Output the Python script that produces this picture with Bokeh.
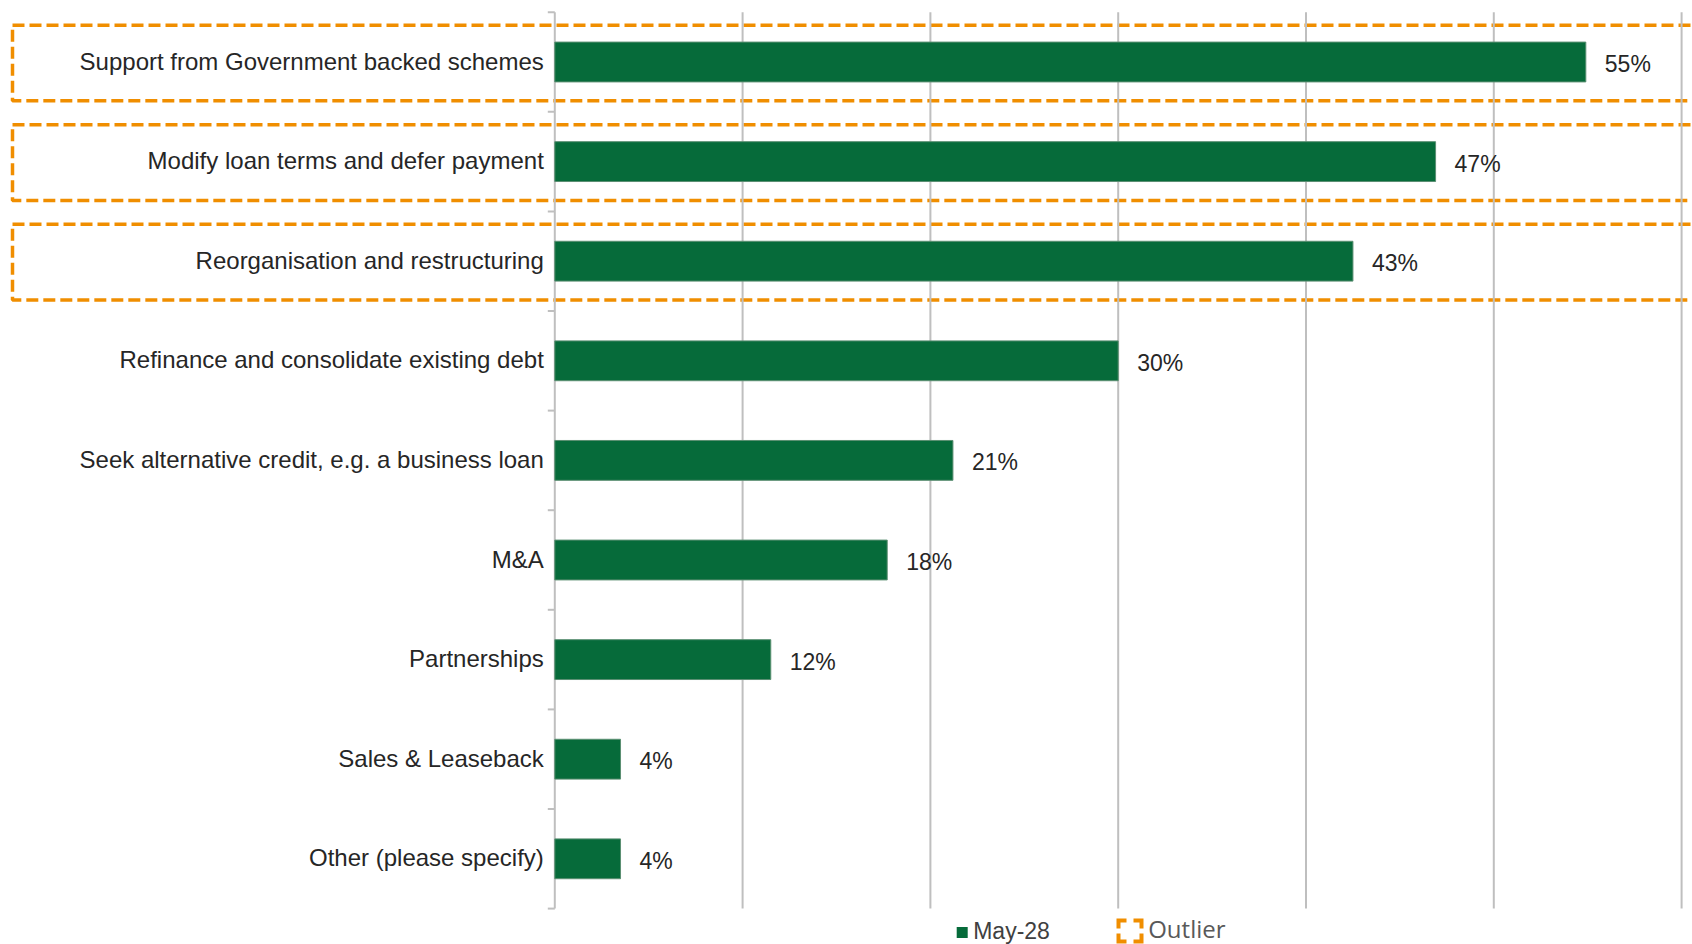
from bokeh.plotting import figure
from bokeh.models import Range1d
from bokeh.core.properties import value
from bokeh.embed import file_html
from bokeh.resources import INLINE

# ---- data ----
categories = [
    "Support from Government backed schemes",
    "Modify loan terms and defer payment",
    "Reorganisation and restructuring",
    "Refinance and consolidate existing debt",
    "Seek alternative credit, e.g. a business loan",
    "M&A",
    "Partnerships",
    "Sales & Leaseback",
    "Other (please specify)",
]
values = [54.9, 46.9, 42.5, 30.0, 21.2, 17.7, 11.5, 3.5, 3.5]
value_labels = ["55%", "47%", "43%", "30%", "21%", "18%", "12%", "4%", "4%"]
outlier = [True, True, True, False, False, False, False, False, False]
grid_ticks = [0, 10, 20, 30, 40, 50, 60]
series_name = "May-28"
outlier_name = "Outlier"

# ---- styles / layout ----
GREEN = "#066B3A"
ORANGE = "#F08E00"
GRID = "#BFBFBF"
W, H = 1692, 944
PXX = 18.78          # pixels per percentage point
X0 = 554.3           # pixel position of 0 %
CAT = 99.6           # pixels per category
TOP = 11.7           # pixel position of the top of the category band
x_start = -X0 / PXX
x_end = x_start + W / PXX
y_top = -0.5 - TOP / CAT
y_bottom = y_top + H / CAT


def px_x(pix):
    return x_start + pix / PXX


def px_y(pix):
    return y_top + pix / CAT


n = len(categories)
ys = list(range(n))

p = figure(width=W, height=H, x_range=Range1d(x_start, x_end),
           y_range=Range1d(y_bottom, y_top), output_backend="svg",
           toolbar_location=None, min_border=0, x_axis_location=None,
           y_axis_location=None, outline_line_color=None,
           background_fill_color="white", border_fill_color="white")
p.grid.grid_line_color = None

# outlier boxes
oy = [y + 0.01 for y, o in zip(ys, outlier) if o]
bl = x_start + 12 / PXX
br = x_end + 2
p.rect(x=[(bl + br) / 2] * len(oy), y=oy, width=br - bl, height=0.76,
       fill_color=None, line_color=ORANGE, line_width=3.5, line_dash="12 5")

# gridlines and axis line
p.segment(x0=grid_ticks, y0=[-0.5] * len(grid_ticks), x1=grid_ticks,
          y1=[n - 0.5] * len(grid_ticks), line_color=GRID, line_width=2)
bounds = [i - 0.5 for i in range(n + 1)]
p.segment(x0=[-7 / PXX] * len(bounds), y0=bounds, x1=[0] * len(bounds),
          y1=bounds, line_color=GRID, line_width=2)

# bars
p.hbar(y=ys, left=0, right=values, height=0.4, fill_color=GREEN,
       line_color="#5b8f72", line_width=1)

# category labels
p.text(x=[0] * n, y=ys, text=categories, x_offset=-11, y_offset=-1,
       text_align="right", text_baseline="middle",
       text_font=value("Liberation Sans"), text_font_size="24px",
       text_color="#262626")

# value labels
p.text(x=values, y=ys, text=value_labels, x_offset=19, y_offset=2,
       text_align="left", text_baseline="middle",
       text_font=value("Liberation Sans"), text_font_size="23px",
       text_color="#262626")

# legend
ly = 930
p.scatter(x=[px_x(961.7)], y=[px_y(ly + 2)], marker="square", size=11,
          fill_color=GREEN, line_color=None)
p.text(x=[px_x(972.7)], y=[px_y(ly)], text=[series_name], text_align="left",
       text_baseline="middle", text_font=value("Liberation Sans"),
       text_font_size="23px", text_color="#404040")

cx0, cx1 = 1118, 1141
cy0, cy1 = ly - 10, ly + 11
arm = 8
xs_c = [
    [px_x(cx0 + arm), px_x(cx0), px_x(cx0)],
    [px_x(cx1 - arm), px_x(cx1), px_x(cx1)],
    [px_x(cx0 + arm), px_x(cx0), px_x(cx0)],
    [px_x(cx1 - arm), px_x(cx1), px_x(cx1)],
]
ys_c = [
    [px_y(cy0), px_y(cy0), px_y(cy0 + arm)],
    [px_y(cy0), px_y(cy0), px_y(cy0 + arm)],
    [px_y(cy1), px_y(cy1), px_y(cy1 - arm)],
    [px_y(cy1), px_y(cy1), px_y(cy1 - arm)],
]
p.multi_line(xs=xs_c, ys=ys_c, line_color=ORANGE, line_width=4,
             line_join="miter")
p.text(x=[px_x(1147.7)], y=[px_y(ly - 2)], text=[outlier_name],
       text_align="left", text_baseline="middle",
       text_font=value("Open Sans"), text_font_size="24px",
       text_color="#595959")

open("out.html", "w").write(file_html(p, INLINE))
